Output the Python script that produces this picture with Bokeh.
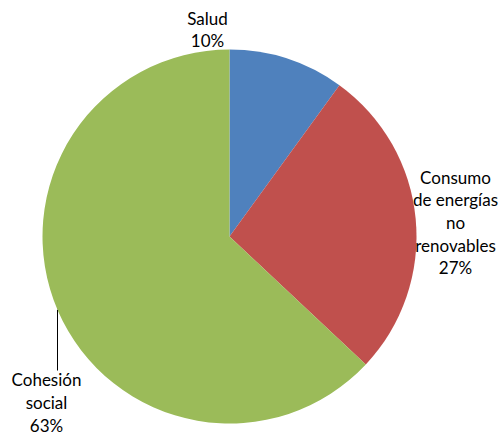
import math
from bokeh.plotting import figure
from bokeh.models import Range1d, ColumnDataSource
from bokeh.core.properties import value
from bokeh.embed import file_html
from bokeh.resources import INLINE

# data
categories = ["Salud", "Consumo\nde energías\nno\nrenovables", "Cohesión\nsocial"]
percents = [10, 27, 63]
colors = ["#4F81BD", "#C0504D", "#9BBB59"]

# layout (page pixels)
W, H = 499, 437
cx, cy, r = 229, H - 236, 187
label_pos = [(207, H - 29), (455, H - 222), (46, H - 402)]

total = sum(percents)
starts, ends = [], []
acc = 0.0
for v in percents:
    starts.append(math.pi / 2 - acc / total * 2 * math.pi)
    acc += v
    ends.append(math.pi / 2 - acc / total * 2 * math.pi)

src = ColumnDataSource(dict(start=starts, end=ends, color=colors,
                            x=[cx] * 3, y=[cy] * 3))

p = figure(width=W, height=H, output_backend="svg", toolbar_location=None,
           x_range=Range1d(0, W), y_range=Range1d(0, H),
           min_border=0, outline_line_color=None)
p.axis.visible = False
p.grid.visible = False
p.background_fill_color = "white"

p.wedge(x="x", y="y", radius=r, start_angle="start", end_angle="end",
        direction="clock", fill_color="color", line_color=None, source=src)

# leader line for Cohesión social
lx = 57
ly_top = cy - math.sqrt(r * r - (lx - cx) ** 2)
p.line(x=[lx, lx], y=[ly_top, H - 370], line_color="black", line_width=1)

labels = [f"{c}\n{v}%" for c, v in zip(categories, percents)]
p.text(x=[q[0] for q in label_pos], y=[q[1] for q in label_pos], text=labels,
       text_align="center", text_baseline="middle",
       text_font=value("Lato"), text_font_size="17px", text_color="black",
       text_line_height=1.08)

open("out.html", "w").write(file_html(p, INLINE))
